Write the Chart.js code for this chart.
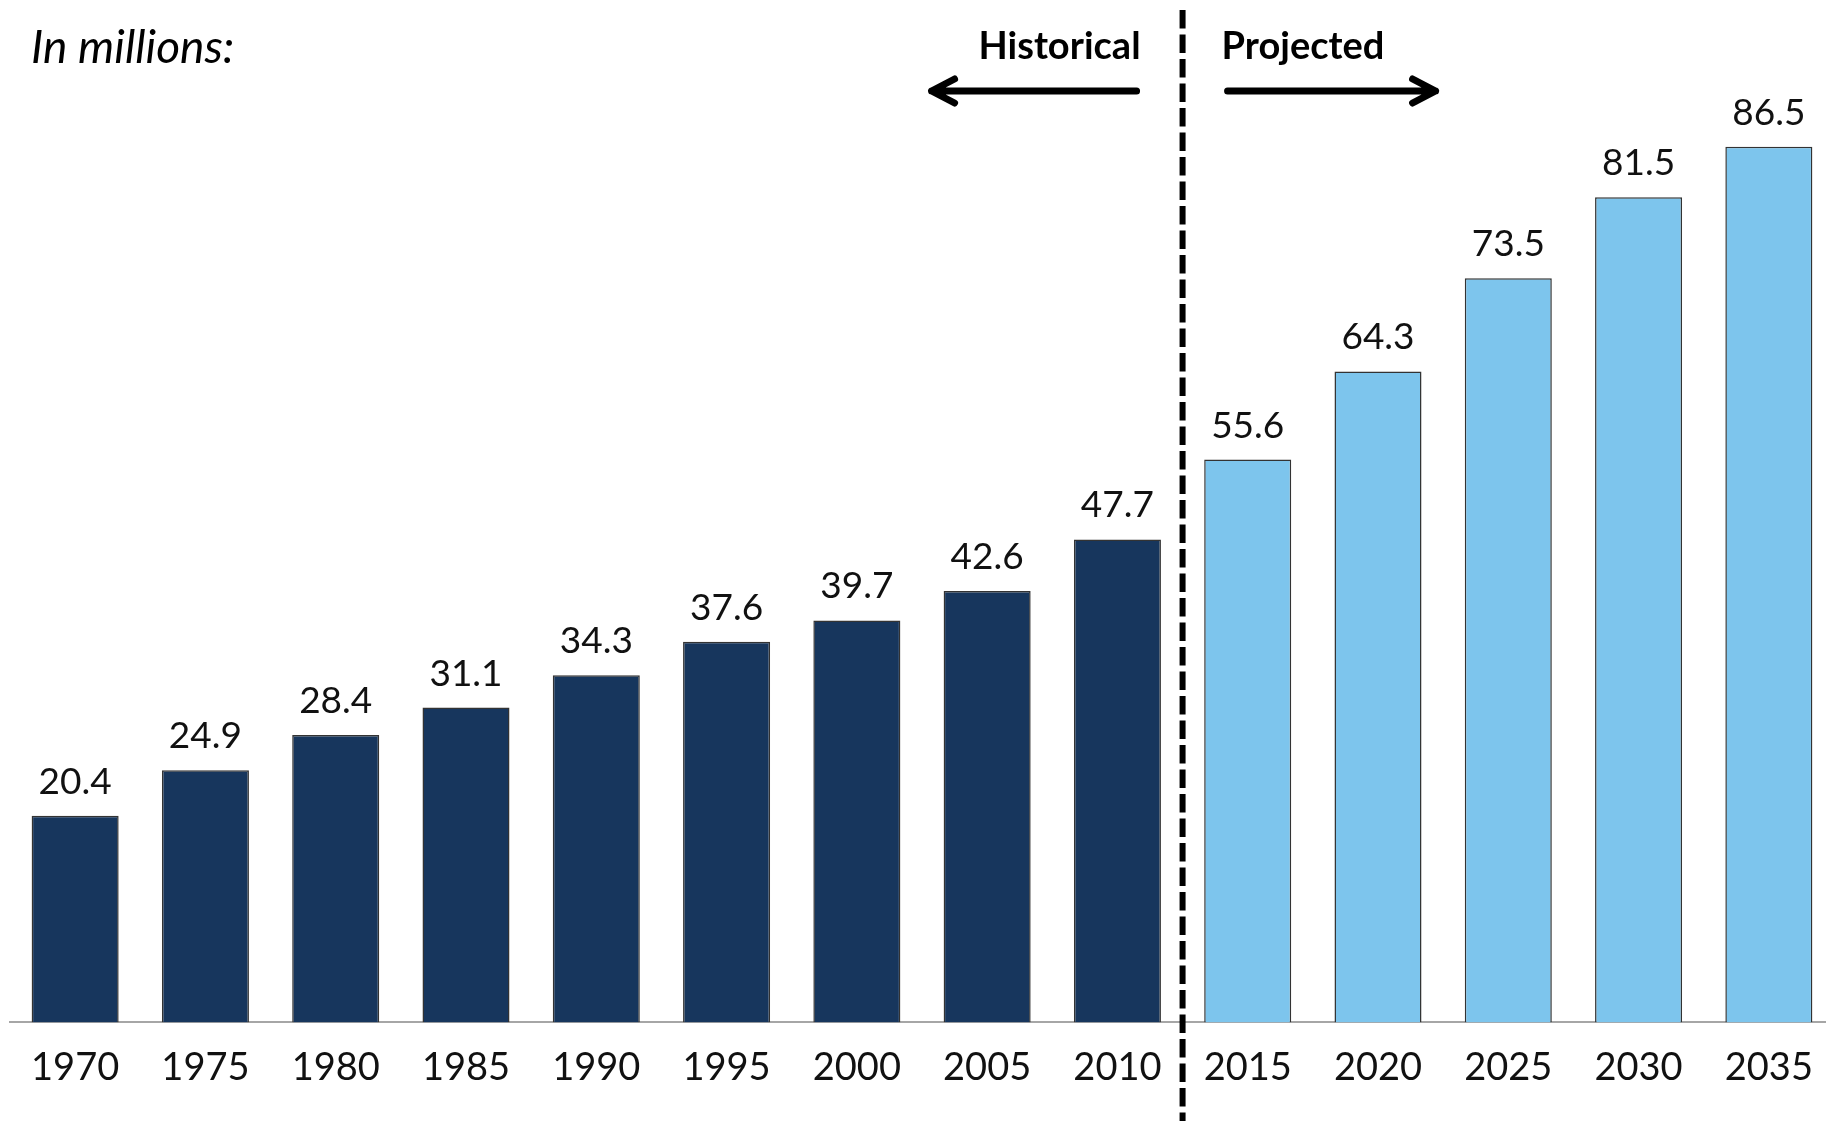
<!DOCTYPE html>
<html>
<head>
<meta charset="utf-8">
<script src="https://cdn.jsdelivr.net/npm/chart.js@4/dist/chart.umd.min.js"></script>
<style>
  html, body { margin: 0; padding: 0; background: #fff; overflow: hidden; }
  #wrap { width: 1844px; height: 1121px; }
</style>
</head>
<body>
<div id="wrap"><canvas id="barChart"></canvas></div>
<script>
"use strict";

// data
var years = [ "1970", "1975", "1980", "1985", "1990", "1995", "2000", "2005", "2010",
              "2015", "2020", "2025", "2030", "2035" ];
var values = [ 20.4, 24.9, 28.4, 31.1, 34.3, 37.6, 39.7, 42.6, 47.7,
               55.6, 64.3, 73.5, 81.5, 86.5 ];
var historicalCount = 9;   // 1970 - 2010 are historical, the rest projected

var darkBlue = "#17365d";
var lightBlue = "#7dc5ed";

var barColors = years.map( function ( y, i ) {
    return i < historicalCount ? darkBlue : lightBlue;
} );

var FONT = "Lato, 'Open Sans', sans-serif";

// arrow with an open head, drawn from x0 towards x1
function arrow( ctx, x0, x1, y ) {
    var dir = x1 > x0 ? 1 : -1;
    ctx.beginPath();
    ctx.moveTo( x0, y );
    ctx.lineTo( x1, y );
    ctx.moveTo( x1 - dir * 23, y - 12 );
    ctx.lineTo( x1, y );
    ctx.lineTo( x1 - dir * 23, y + 12 );
    ctx.stroke();
}

// labels, divider and arrows
var annotations = {
    id: "annotations",
    afterDatasetsDraw: function ( chart ) {
        var ctx = chart.ctx;
        var x = chart.scales.x;
        var meta = chart.getDatasetMeta( 0 );

        ctx.save();

        // value labels above bars
        ctx.fillStyle = "#111";
        ctx.font = "37px " + FONT;
        ctx.textAlign = "center";
        ctx.textBaseline = "alphabetic";
        meta.data.forEach( function ( bar, i ) {
            ctx.fillText( values[ i ].toFixed( 1 ), bar.x, bar.y - 22 );
        } );

        // dashed divider between 2010 and 2015
        var divX = ( x.getPixelForValue( historicalCount - 1 ) + x.getPixelForValue( historicalCount ) ) / 2;
        ctx.strokeStyle = "#000";
        ctx.lineWidth = 6;
        ctx.setLineDash( [ 18.5, 6 ] );
        ctx.beginPath();
        ctx.moveTo( divX, 10 );
        ctx.lineTo( divX, chart.height );
        ctx.stroke();
        ctx.setLineDash( [] );

        // Historical / Projected
        ctx.fillStyle = "#000";
        ctx.font = "bold 38px " + FONT;
        ctx.textAlign = "right";
        ctx.fillText( "Historical", divX - 42, 59 );
        ctx.textAlign = "left";
        ctx.fillText( "Projected", divX + 39, 59 );

        ctx.lineWidth = 7;
        ctx.lineCap = "round";
        ctx.lineJoin = "round";
        arrow( ctx, divX - 46, divX - 251, 91 );
        arrow( ctx, divX + 45, divX + 253, 91 );

        // unit note
        ctx.font = "italic 46px " + FONT;
        ctx.textAlign = "left";
        ctx.fillText( "In millions:", 31, 63 );

        ctx.restore();
    }
};

var ctx = document.getElementById( "barChart" );
var myChart = new Chart( ctx, {
    type: "bar",
    data: {
        labels: years,
        datasets: [ {
            data: values,
            backgroundColor: barColors,
            borderColor: "#333",
            borderWidth: 1.5,
            barPercentage: 0.668,
            categoryPercentage: 1.0
        } ]
    },
    options: {
        responsive: true,
        maintainAspectRatio: false,
        animation: false,
        layout: {
            padding: { left: 10, right: 10, top: 10, bottom: 7 }
        },
        plugins: {
            legend: { display: false },
            tooltip: { enabled: false }
        },
        scales: {
            x: {
                grid: { display: false, drawTicks: false },
                border: { display: true, color: "#a6a6a6", width: 2 },
                ticks: {
                    color: "#111",
                    padding: 23,
                    font: { family: FONT, size: 38 },
                    maxRotation: 0,
                    autoSkip: false
                }
            },
            y: {
                display: false,
                min: 0,
                max: 100
            }
        }
    },
    plugins: [ annotations ]
} );
</script>
</body>
</html>
